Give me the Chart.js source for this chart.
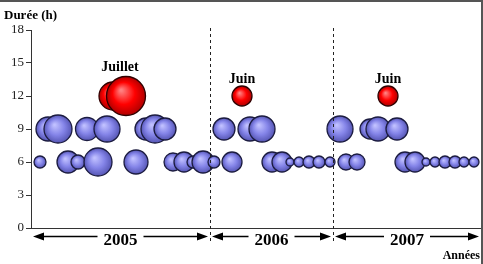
<!DOCTYPE html>
<html>
<head>
<meta charset="utf-8">
<script src="https://cdn.jsdelivr.net/npm/chart.js@4.4.1/dist/chart.umd.min.js"></script>
<style>
html,body{margin:0;padding:0;background:#fff;}
#box{width:483px;height:264px;position:relative;}
</style>
</head>
<body>
<div id="box"><canvas id="grafico" width="483" height="264"></canvas></div>
<script>
// Données (x = position sur l'axe du temps, r = taille de la bulle)
const ligne9X = [1.7, 2.7, 5.6, 7.6, 11.5, 12.4, 13.4, 19.3, 21.9, 23.1, 30.9, 33.9, 34.7, 36.6];
const ligne9R = [12, 14, 11.5, 13, 11, 14, 11, 11, 12, 13, 13, 10, 12, 11];
const ligne6X = [0.9, 3.7, 4.7, 6.7, 10.5, 14.2, 15.3, 16.2, 17.2, 18.3, 20.1, 24.1, 25.1, 25.9, 26.8, 27.8, 28.8, 29.9, 31.5, 32.6, 37.4, 38.4, 39.5, 40.4, 41.4, 42.4, 43.3, 44.3];
const ligne6R = [6, 11, 7, 14, 12, 9, 10, 6, 11, 6, 10, 10, 10, 4, 5, 6, 6, 5, 8, 8, 10, 10, 4, 5, 6, 6, 5, 5];
const rougeX = [8.2, 9.5, 21.1, 35.7];
const rougeY = [12, 12, 12, 12];
const rougeR = [14, 19.5, 10, 10];
const moisLabels = ["Juillet", "Juin", "Juin"];
const moisX = [8.9, 21.1, 35.7];
const moisY = [14.6, 13.5, 13.5];
const annees = ["2005", "2006", "2007"];
const limitesAnnees = [0, 17.9, 30.2, 45];
const yTicks = [0, 3, 6, 9, 12, 15, 18];

// points des bulles
let bleus = [];
for(let i=0;i<ligne9X.length;i++){ bleus.push({x:ligne9X[i], y:9, r:ligne9R[i]}); }
for(let i=0;i<ligne6X.length;i++){ bleus.push({x:ligne6X[i], y:6, r:ligne6R[i]}); }
let rouges = [];
for(let i=0;i<rougeX.length;i++){ rouges.push({x:rougeX[i], y:rougeY[i], r:rougeR[i]}); }

// dégradé "boule 3D"
function degrade(c1, c2, c3){
return function(context){
const chart = context.chart;
const p = context.raw;
if(!p || !chart.chartArea || !chart.scales.x) return c2;
const x = chart.scales.x.getPixelForValue(p.x);
const y = chart.scales.y.getPixelForValue(p.y);
const r = p.r;
const g = chart.ctx.createRadialGradient(x - r*0.25, y - r*0.3, r*0.05, x, y, r);
g.addColorStop(0, c1);
g.addColorStop(0.55, c2);
g.addColorStop(1, c3);
return g;
};
}

const serif = "'Liberation Serif', 'Times New Roman', serif";

const decor = {
id: "decor",
afterDraw(chart){
const ctx = chart.ctx;
const xs = chart.scales.x, ys = chart.scales.y;
const area = chart.chartArea;
ctx.save();
// lignes pointillées entre les années
ctx.strokeStyle = "#222";
ctx.lineWidth = 1;
ctx.setLineDash([3, 3]);
for(let i=1;i<limitesAnnees.length-1;i++){
let px = Math.round(xs.getPixelForValue(limitesAnnees[i])) + 0.5;
ctx.beginPath();
ctx.moveTo(px, area.top - 2);
ctx.lineTo(px, area.bottom + 14);
ctx.stroke();
}
ctx.setLineDash([]);
// flèches + années
const ya = area.bottom + 8.5;
ctx.font = "bold 17px " + serif;
ctx.textAlign = "center";
ctx.textBaseline = "middle";
ctx.fillStyle = "#000";
for(let i=0;i<annees.length;i++){
let x1 = xs.getPixelForValue(limitesAnnees[i]) + 2;
let x2 = xs.getPixelForValue(limitesAnnees[i+1]) - 2;
let mid = (x1 + x2)/2;
let tw = ctx.measureText(annees[i]).width/2 + 6;
ctx.strokeStyle = "#000";
ctx.lineWidth = 1.3;
ctx.beginPath();
ctx.moveTo(x1 + 4, ya); ctx.lineTo(mid - tw, ya);
ctx.moveTo(mid + tw, ya); ctx.lineTo(x2 - 4, ya);
ctx.stroke();
ctx.beginPath();
ctx.moveTo(x1, ya); ctx.lineTo(x1 + 11, ya - 4); ctx.lineTo(x1 + 11, ya + 4); ctx.closePath();
ctx.moveTo(x2, ya); ctx.lineTo(x2 - 11, ya - 4); ctx.lineTo(x2 - 11, ya + 4); ctx.closePath();
ctx.fill();
ctx.fillText(annees[i], mid, ya + 4);
}
// étiquettes des mois
ctx.font = "bold 14px " + serif;
ctx.textBaseline = "middle";
for(let i=0;i<moisLabels.length;i++){
ctx.fillText(moisLabels[i], xs.getPixelForValue(moisX[i]), ys.getPixelForValue(moisY[i]));
}
// titres des axes
ctx.font = "bold 13px " + serif;
ctx.textAlign = "left";
ctx.textBaseline = "alphabetic";
ctx.fillText("Durée (h)", 4, 19);
ctx.font = "bold 12px " + serif;
ctx.textAlign = "right";
ctx.fillText("Années", 480, 259);
// cadre
ctx.strokeStyle = "#555";
ctx.lineWidth = 2;
ctx.beginPath();
ctx.moveTo(0, 1); ctx.lineTo(482, 1); ctx.lineTo(482, 264);
ctx.stroke();
ctx.restore();
}
};

new Chart(document.getElementById("grafico"), {
type: "bubble",
data: {
datasets: [
{data: bleus, backgroundColor: degrade("#c0c0ff", "#8484e8", "#5656b4"), borderColor: "#1c1c40", borderWidth: 1.3},
{data: rouges, backgroundColor: degrade("#ff8080", "#ff0000", "#b00000"), borderColor: "#300000", borderWidth: 1.3}
]
},
options: {
responsive: false,
animation: false,
events: [],
layout: {autoPadding: false, padding: {top: 30, right: 2, left: 0, bottom: 0}},
plugins: {legend: {display: false}, tooltip: {enabled: false}},
scales: {
x: {
type: "linear", min: limitesAnnees[0], max: limitesAnnees[limitesAnnees.length-1],
grid: {display: false},
border: {display: true, color: "#333", width: 1},
ticks: {display: false},
afterFit: function(s){ s.height = 36; }
},
y: {
min: 0, max: 18,
afterBuildTicks: function(s){ s.ticks = yTicks.map(v => ({value: v})); },
grid: {drawOnChartArea: false, tickLength: 5, color: "#333"},
border: {display: true, color: "#333", width: 1},
ticks: {font: {family: serif, size: 13}, color: "#222", padding: 2},
afterFit: function(s){ s.width = 31; }
}
}
},
plugins: [decor]
});
</script>
</body>
</html>
